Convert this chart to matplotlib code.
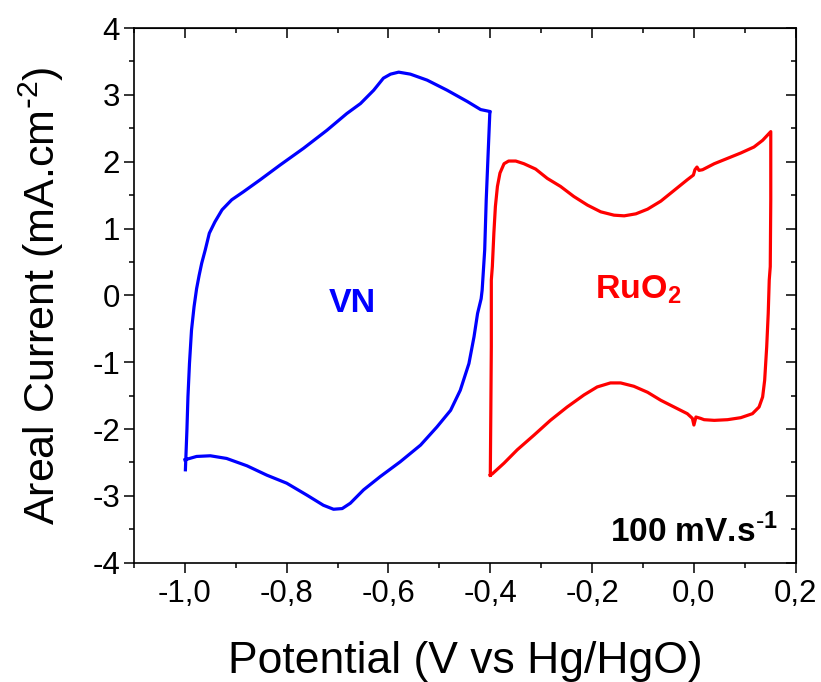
import numpy as np
import matplotlib
matplotlib.use("Agg")
import matplotlib.pyplot as plt
from matplotlib.ticker import MultipleLocator, FuncFormatter

plt.rcParams['font.family'] = ['Liberation Sans', 'DejaVu Sans']

# VN cyclic voltammogram (potential V, current mA/cm2)
vn_x = [-0.999, -0.998, -0.996, -0.994, -0.991, -0.987, -0.982, -0.977, -0.972, -0.967,
        -0.960, -0.952, -0.941, -0.927, -0.908, -0.885, -0.852, -0.813, -0.767, -0.721,
        -0.682, -0.655, -0.629, -0.610, -0.596, -0.580, -0.557, -0.524, -0.485, -0.445,
        -0.419, -0.400, -0.401, -0.404, -0.408, -0.411, -0.416, -0.418, -0.425, -0.432,
        -0.442, -0.459, -0.478, -0.505, -0.537, -0.577, -0.616, -0.649, -0.675, -0.691,
        -0.708, -0.728, -0.760, -0.800, -0.839, -0.878, -0.918, -0.950, -0.977, -1.000]
vn_y = [-2.61, -2.41, -2.01, -1.52, -1.02, -0.52, -0.17, 0.10, 0.30, 0.48,
        0.68, 0.93, 1.10, 1.28, 1.43, 1.55, 1.73, 1.95, 2.20, 2.47,
        2.72, 2.87, 3.07, 3.25, 3.31, 3.34, 3.31, 3.22, 3.07, 2.90,
        2.78, 2.75, 2.72, 2.17, 1.43, 0.68, 0.08, -0.05, -0.27, -0.62,
        -1.02, -1.42, -1.72, -1.97, -2.24, -2.49, -2.71, -2.91, -3.11, -3.19,
        -3.20, -3.14, -2.99, -2.81, -2.69, -2.55, -2.44, -2.40, -2.41, -2.46]

# RuO2 cyclic voltammogram
ru_x = [-0.400, -0.399, -0.398, -0.398, -0.396, -0.393, -0.390, -0.386, -0.381, -0.373,
        -0.364, -0.350, -0.334, -0.311, -0.288, -0.262, -0.236, -0.209, -0.183, -0.157,
        -0.137, -0.114, -0.091, -0.065, -0.039, -0.013, -0.001, 0.002, 0.006, 0.010,
        0.017, 0.040, 0.066, 0.092, 0.118, 0.135, 0.151, 0.151, 0.150, 0.148,
        0.146, 0.143, 0.139, 0.135, 0.128, 0.115, 0.092, 0.066, 0.040, 0.020,
        0.013, 0.004, 0.000, -0.003, -0.013, -0.039, -0.065, -0.091, -0.118, -0.144,
        -0.164, -0.190, -0.216, -0.249, -0.282, -0.314, -0.347, -0.373, -0.396, -0.400]
ru_y = [-2.69, -1.77, -0.77, 0.23, 0.43, 0.93, 1.33, 1.63, 1.83, 1.97,
        2.01, 2.01, 1.97, 1.89, 1.75, 1.63, 1.48, 1.35, 1.25, 1.20,
        1.19, 1.22, 1.29, 1.41, 1.57, 1.73, 1.80, 1.88, 1.92, 1.87,
        1.88, 1.97, 2.05, 2.13, 2.22, 2.32, 2.45, 1.43, 0.43, 0.23,
        -0.27, -0.77, -1.27, -1.52, -1.67, -1.77, -1.83, -1.86, -1.87, -1.86,
        -1.84, -1.82, -1.94, -1.84, -1.77, -1.67, -1.57, -1.45, -1.36, -1.31,
        -1.31, -1.37, -1.49, -1.67, -1.87, -2.09, -2.31, -2.51, -2.67, -2.69]

fig = plt.figure(figsize=(8.21, 6.82), dpi=100)
ax = fig.add_axes([0.1632, 0.1749, 0.806, 0.784])

ax.plot(vn_x, vn_y, color='#0000ff', lw=2.3, solid_joinstyle='round')
ax.plot(ru_x, ru_y, color='#ff0000', lw=2.3, solid_joinstyle='round')

ax.set_xlim(-1.1, 0.2)
ax.set_ylim(-4, 4)

ax.xaxis.set_major_locator(MultipleLocator(0.2))
ax.xaxis.set_minor_locator(MultipleLocator(0.1))
ax.yaxis.set_major_locator(MultipleLocator(1))
ax.yaxis.set_minor_locator(MultipleLocator(0.5))
ax.xaxis.set_major_formatter(FuncFormatter(lambda v, p: ('%.1f' % v).replace('.', ',').replace('-0,0', '0,0')))
ax.yaxis.set_major_formatter(FuncFormatter(lambda v, p: '%d' % round(v)))

for s in ax.spines.values():
    s.set_linewidth(1.2)

# bottom/left ticks outward, top/right inward
ax.tick_params(which='both', bottom=True, left=True, top=False, right=False,
               direction='out', width=1.1, labelsize=22.5)
ax.tick_params(which='major', length=7)
ax.tick_params(which='minor', length=3.8)
ax.tick_params(axis='x', pad=5)
ax.tick_params(axis='y', pad=3)

ax_t = ax.secondary_xaxis('top')
ax_t.xaxis.set_major_locator(MultipleLocator(0.2))
ax_t.xaxis.set_minor_locator(MultipleLocator(0.1))
ax_t.tick_params(which='both', direction='in', width=1.1, labeltop=False)
ax_t.tick_params(which='major', length=7)
ax_t.tick_params(which='minor', length=3.8)
ax_r = ax.secondary_yaxis('right')
ax_r.yaxis.set_major_locator(MultipleLocator(1))
ax_r.yaxis.set_minor_locator(MultipleLocator(0.5))
ax_r.tick_params(which='both', direction='in', width=1.1, labelright=False)
ax_r.tick_params(which='major', length=7)
ax_r.tick_params(which='minor', length=3.8)

ax.set_xlabel('Potential (V vs Hg/HgO)', fontsize=32)
ax.set_ylabel('Areal Current (mA.cm$^{\\mathregular{\\text{-}2}}$)', fontsize=31)
ax.xaxis.set_label_coords(0.5, -0.146)
ax.yaxis.set_label_coords(-0.102, 0.5)

ax.text(-0.671, -0.245, 'VN', color='#0000ff', fontsize=24.5, fontweight='bold', ha='center', va='baseline')
ax.text(-0.11, -0.04, 'RuO$_{\\mathregular{2}}$', color='#ff0000', fontsize=24.5, fontweight='bold', ha='center', va='baseline')
ax.text(0.165, -3.69, '100 mV.s$^{\\mathregular{\\text{-}1}}$', color='black', fontsize=24, fontweight='bold', ha='right', va='baseline')

fig.savefig('out.png', dpi=100)
